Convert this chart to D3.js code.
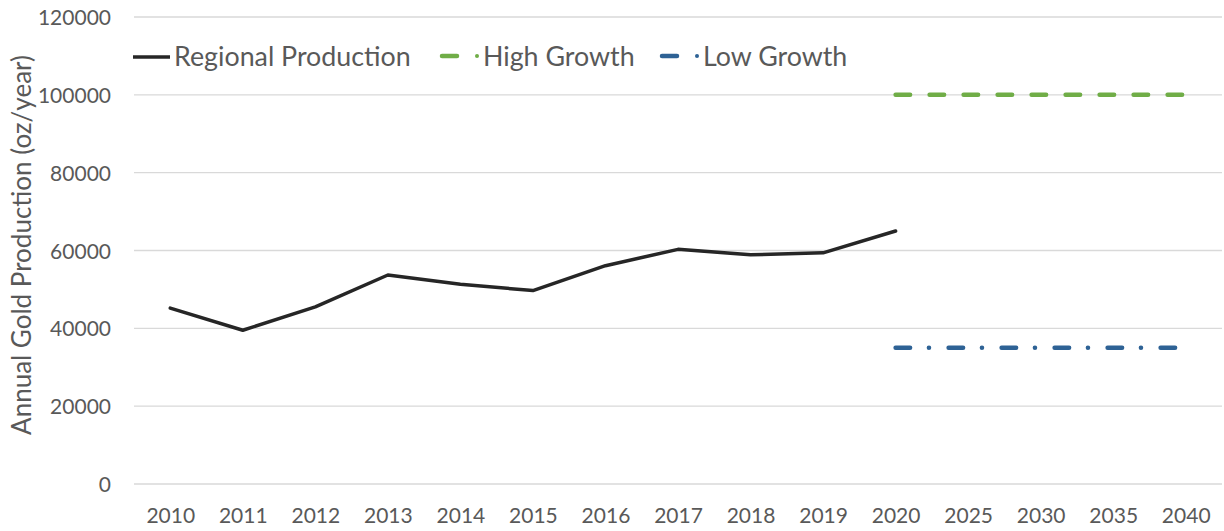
<!DOCTYPE html>
<html>
<head>
<meta charset="utf-8">
<script src="https://cdn.jsdelivr.net/npm/d3@7"></script>
<style>
  body { margin: 0; background: #fff; }
  svg { display: block; font-family: Lato, "Open Sans", sans-serif; }
</style>
</head>
<body>
<div id="chart"></div>
<script>
// --- data ---
const years = ["2010", "2011", "2012", "2013", "2014", "2015", "2016", "2017", "2018", "2019", "2020", "2025", "2030", "2035", "2040"];
const regionalYears = ["2010", "2011", "2012", "2013", "2014", "2015", "2016", "2017", "2018", "2019", "2020"];
const regionalValues = [45200, 39500, 45500, 53700, 51300, 49700, 56100, 60300, 58900, 59400, 65000];
const forecastYears = ["2020", "2025", "2030", "2035", "2040"];
const highGrowth = [100000, 100000, 100000, 100000, 100000];
const lowGrowth = [35000, 35000, 35000, 35000, 35000];
const yTicks = [0, 20000, 40000, 60000, 80000, 100000, 120000];

const W = 1224, H = 531;
const margin = { top: 17, right: 2, bottom: 47, left: 134 };

const svg = d3.select('#chart').append('svg').attr('width', W).attr('height', H);

const x = d3.scalePoint().domain(years).range([margin.left, W - margin.right]).padding(0.5);
const y = d3.scaleLinear().domain([0, 120000]).range([H - margin.bottom, margin.top]);

// gridlines
svg.append('g').selectAll('line').data(yTicks).enter().append('line')
    .attr('x1', margin.left).attr('x2', W - margin.right)
    .attr('y1', d => y(d)).attr('y2', d => y(d))
    .attr('stroke', '#d9d9d9').attr('stroke-width', 1.3);

// y tick labels
const yAxis = svg.append('g').attr('transform', `translate(${margin.left - 23},0)`)
    .call(d3.axisLeft(y).tickValues(yTicks).tickSize(0).tickPadding(0).tickFormat(d3.format('d')));
yAxis.attr('font-family', null).attr('font-size', null);
yAxis.select('.domain').remove();
yAxis.selectAll('text').attr('fill', '#595959').style('font-size', '21px').attr('dy', '0.36em');

// x tick labels
const xAxis = svg.append('g').attr('transform', `translate(0,${H - margin.bottom})`)
    .call(d3.axisBottom(x).tickSize(0).tickPadding(24));
xAxis.attr('font-family', null).attr('font-size', null);
xAxis.select('.domain').remove();
xAxis.selectAll('text').attr('fill', '#595959').style('font-size', '21px');

// axis title
svg.append('text')
    .attr('transform', `translate(31,245) rotate(-90)`)
    .attr('text-anchor', 'middle').attr('fill', '#595959').style('font-size', '26px')
    .text('Annual Gold Production (oz/year)');

// lines
const line = d3.line().x(d => x(d[0])).y(d => y(d[1]));

svg.append('path').datum(d3.zip(regionalYears, regionalValues))
    .attr('d', line).attr('fill', 'none').attr('stroke', '#262626')
    .attr('stroke-width', 3.5).attr('stroke-linejoin', 'round').attr('stroke-linecap', 'round');

svg.append('path').datum(d3.zip(forecastYears, highGrowth))
    .attr('d', line).attr('fill', 'none').attr('stroke', '#70ad47')
    .attr('stroke-width', 4.5).attr('stroke-linecap', 'round').attr('stroke-dasharray', '14.5,19.5');

svg.append('path').datum(d3.zip(forecastYears, lowGrowth))
    .attr('d', line).attr('fill', 'none').attr('stroke', '#2e6295')
    .attr('stroke-width', 4.5).attr('stroke-linecap', 'round').attr('stroke-dasharray', '14.5,18.8,0.1,19.6');

// legend
const legend = svg.append('g');
const legendItems = [
    { label: 'Regional Production', color: '#262626', x: 133, textX: 174, type: 'solid' },
    { label: 'High Growth', color: '#70ad47', x: 442, textX: 483, type: 'dash' },
    { label: 'Low Growth', color: '#2e6295', x: 662, textX: 703, type: 'dashdot' }
];
legendItems.forEach(item => {
    const g = legend.append('g');
    if (item.type === 'solid') {
        g.append('line').attr('x1', item.x).attr('x2', item.x + 37).attr('y1', 57).attr('y2', 57)
            .attr('stroke', item.color).attr('stroke-width', 3.5);
    } else {
        g.append('line').attr('x1', item.x).attr('x2', item.x + 15).attr('y1', 56).attr('y2', 56)
            .attr('stroke', item.color).attr('stroke-width', 4.5).attr('stroke-linecap', 'round');
        g.append('circle').attr('cx', item.x + 35).attr('cy', 56).attr('r', 2).attr('fill', item.color);
    }
    g.append('text').attr('x', item.textX).attr('y', 66).attr('fill', '#595959')
        .style('font-size', '26.8px').text(item.label);
});
</script>
</body>
</html>
